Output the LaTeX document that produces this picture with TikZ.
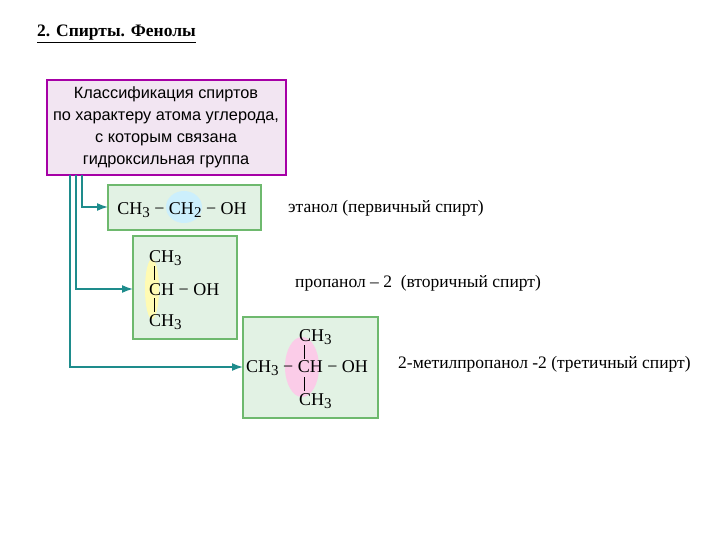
\documentclass[tikz,border=0pt]{standalone}
\usepackage{fontspec}
\usetikzlibrary{arrows.meta}
\setmainfont{Liberation Serif}
\newfontfamily\arial{Liberation Sans}
\newcommand{\sbs}[1]{\raisebox{-0.35ex}{\fontsize{15}{15}\selectfont #1}}
\definecolor{gfill}{RGB}{226,242,228}
\definecolor{gline}{RGB}{110,185,110}
\definecolor{tealc}{RGB}{30,140,140}
\begin{document}
\begin{tikzpicture}[x=1pt,y=-1pt,
  gbox/.style={draw=gline,fill=gfill,line width=1.2pt},
  conn/.style={draw=tealc,line width=1.5pt,-{Latex[length=11pt,width=8pt]}},
  lbl/.style={anchor=west,font=\fontsize{17.5}{20}\selectfont,inner sep=0},
  fm/.style={font=\fontsize{18}{20}\selectfont,inner sep=0}]
\useasboundingbox (0,0) rectangle (720,540);
\node[anchor=west,inner sep=0,font=\bfseries\fontsize{17.5}{18}\selectfont] (t) at (37,34) {\underline{2. Спирты. Фенолы}};
\draw[draw=violet!70!magenta,fill=violet!10,line width=1.4pt] (47,80) rectangle (286,175);
\node[align=center,font=\arial\fontsize{16.3}{22}\selectfont] (cls) at (166,127) {Классификация спиртов\\по характеру атома углерода,\\с которым связана\\гидроксильная группа};
% boxes
\draw[gbox] (108,185) rectangle (261,230); \coordinate (b1) at (108,207);
\draw[gbox] (133,236) rectangle (237,339); \coordinate (b2) at (133,289);
\draw[gbox] (243,317) rectangle (378,418); \coordinate (b3) at (243,367);
% highlights
\fill[cyan!20] (184,207) ellipse (18 and 16);
\fill[yellow!30] (152,289) ellipse (7 and 30);
\fill[magenta!20] (302,367) ellipse (17 and 30);
% connectors
\coordinate (s1) at (82,175); \coordinate (s2) at (76,175); \coordinate (s3) at (70,175);
\draw[conn] (s1) |- (b1);
\draw[conn] (s2) |- (b2);
\draw[conn] (s3) |- (b3);
% formulas
\node[fm] (f1) at (182,210) {CH\sbs{3} − CH\sbs{2} − OH};
\node[fm,anchor=west] (f2a) at (149,258) {CH\sbs{3}};
\node[fm,anchor=west] (f2b) at (149,290) {CH − OH};
\node[fm,anchor=west] (f2c) at (149,322) {CH\sbs{3}};
\draw[thick] (154,266) -- (154,280); \draw[thick] (154,298) -- (154,312);
\node[fm,anchor=west] (f3a) at (299,337) {CH\sbs{3}};
\node[fm,anchor=west] (f3b) at (246,368) {CH\sbs{3} − CH − OH};
\node[fm,anchor=west] (f3c) at (299,401) {CH\sbs{3}};
\draw[thick] (304,345) -- (304,359); \draw[thick] (304,377) -- (304,391);
% labels
\node[lbl] (l1) at (288,208) {этанол (первичный спирт)};
\node[lbl] (l2) at (295,283) {пропанол – 2 \ (вторичный спирт)};
\node[lbl] (l3) at (398,364) {2-метилпропанол -2 (третичный спирт)};
\end{tikzpicture}
\end{document}
